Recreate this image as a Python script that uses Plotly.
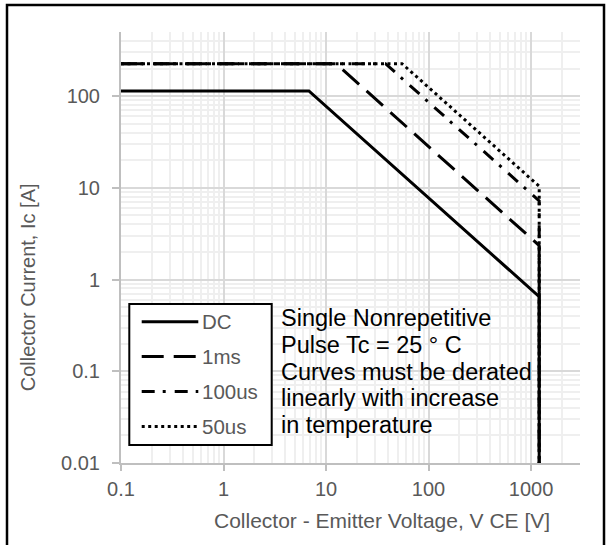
import numpy as np
import plotly.graph_objects as go

# Safe operating area limits: collector-emitter voltage [V] vs collector current [A]
series_names = ["DC", "1ms", "100us", "50us"]
vce_dc = [0.1, 6.8, 1200, 1200]
ic_dc = [114, 114, 0.65, 0.01]
vce_1ms = [0.1, 12.5, 1200, 1200]
ic_1ms = [226, 226, 2.35, 0.01]
vce_100us = [0.1, 38, 1200, 1200]
ic_100us = [226, 226, 7.2, 0.01]
vce_50us = [0.1, 55, 1200, 1200]
ic_50us = [226, 226, 10.4, 0.01]

x_tick_vals = [0.1, 1, 10, 100, 1000]
x_tick_text = ["0.1", "1", "10", "100", "1000"]
y_tick_vals = [0.01, 0.1, 1, 10, 100]
y_tick_text = ["0.01", "0.1", "1", "10", "100"]

x_title = "Collector - Emitter Voltage, V CE [V]"
y_title = "Collector Current, Ic [A]"
note_lines = [
    "Single Nonrepetitive",
    "Pulse Tc = 25 ° C",
    "Curves must be derated",
    "linearly with increase",
    "in temperature",
]

# figure geometry (pixels)
W, H = 611, 545
ML, MR, MT, MB = 121, 31, 32, 82
PW, PH = W - ML - MR, H - MT - MB


def px(xp):
    return (xp - ML) / PW


def py(yp):
    return (H - MB - yp) / PH


FONT = "Arial, Liberation Sans, sans-serif"
GREY_TXT = "#595959"
dash_styles = ["solid", "22px,10px", "13px,8px,3px,9px", "3px,3.5px"]
LW = 3

series_x = [vce_dc, vce_1ms, vce_100us, vce_50us]
series_y = [ic_dc, ic_1ms, ic_100us, ic_50us]

fig = go.Figure()
# draw longest pulse first so the DC curve sits on top
for name, xs, ys, dash in reversed(list(zip(series_names, series_x, series_y, dash_styles))):
    fig.add_trace(go.Scatter(
        x=xs, y=ys, mode="lines", name=name, showlegend=False,
        line=dict(color="black", width=LW, dash=dash),
        hoverinfo="skip",
    ))

minor_x = [m * 10.0 ** e for e in range(-1, 4) for m in range(2, 10)]
minor_y = [m * 10.0 ** e for e in range(-2, 3) for m in range(2, 10)]

axis_common = dict(
    type="log",
    showgrid=True, gridcolor="#d9d9d9", gridwidth=1.5,
    showline=True, linecolor="#bfbfbf", linewidth=2,
    ticks="outside", tickcolor="#bfbfbf", tickwidth=1.5,
    tickfont=dict(family=FONT, size=20, color=GREY_TXT),
    zeroline=False, tickmode="array",
)

fig.update_xaxes(
    **axis_common,
    range=[-1, np.log10(3000)],
    tickvals=x_tick_vals, ticktext=x_tick_text, ticklen=6,
    ticklabelstandoff=1,
    minor=dict(tickmode="array", tickvals=minor_x, showgrid=True,
               gridcolor="#efefef", gridwidth=1.5, ticks=""),
)
fig.update_yaxes(
    **axis_common,
    range=[-2, np.log10(500)],
    tickvals=y_tick_vals, ticktext=y_tick_text, ticklen=7,
    ticklabelstandoff=8,
    minor=dict(tickmode="array", tickvals=minor_y, showgrid=True,
               gridcolor="#efefef", gridwidth=1.5, ticks=""),
)

annotations = []
# axis titles
annotations.append(dict(
    text=x_title, x=px(381.7), y=py(520.7), xref="paper", yref="paper",
    xanchor="center", yanchor="middle", showarrow=False,
    font=dict(family=FONT, size=21, color=GREY_TXT)))
annotations.append(dict(
    text=y_title, x=px(28.3), y=py(287), xref="paper", yref="paper",
    xanchor="center", yanchor="middle", showarrow=False, textangle=-90,
    font=dict(family=FONT, size=20, color=GREY_TXT)))

# explanatory note beside the key
NOTE_FS = 23.5
for i, line in enumerate(note_lines):
    baseline = 326.7 + i * 26.65
    annotations.append(dict(
        text=line, x=px(279), y=py(baseline - 0.35 * NOTE_FS),
        xref="paper", yref="paper", xanchor="left", yanchor="middle",
        showarrow=False, font=dict(family=FONT, size=NOTE_FS, color="black")))

shapes = []
# key box with line samples
shapes.append(dict(type="rect", xref="paper", yref="paper",
                   x0=px(129.3), x1=px(271.7), y0=py(445), y1=py(304),
                   line=dict(color="black", width=2), fillcolor="white", layer="above"))
for i, (name, dash) in enumerate(zip(series_names, dash_styles)):
    yk = 321.7 + i * 34.9
    shapes.append(dict(type="line", xref="paper", yref="paper",
                       x0=px(141.7), x1=px(198.3), y0=py(yk), y1=py(yk),
                       line=dict(color="black", width=LW, dash=dash), layer="above"))
    annotations.append(dict(
        text=name, x=px(200), y=py(yk), xref="paper", yref="paper",
        xanchor="left", yanchor="middle", showarrow=False,
        font=dict(family=FONT, size=20.5, color=GREY_TXT)))

# outer frame (its lower edge runs off the page)
shapes.append(dict(type="rect", xref="paper", yref="paper",
                   x0=px(7), x1=px(604), y0=py(549), y1=py(5),
                   line=dict(color="black", width=2.5), layer="above"))

fig.update_layout(
    width=W, height=H,
    margin=dict(l=ML, r=MR, t=MT, b=MB),
    paper_bgcolor="white", plot_bgcolor="white",
    showlegend=False,
    annotations=annotations, shapes=shapes,
    font=dict(family=FONT),
)

fig.write_html("out.html")
